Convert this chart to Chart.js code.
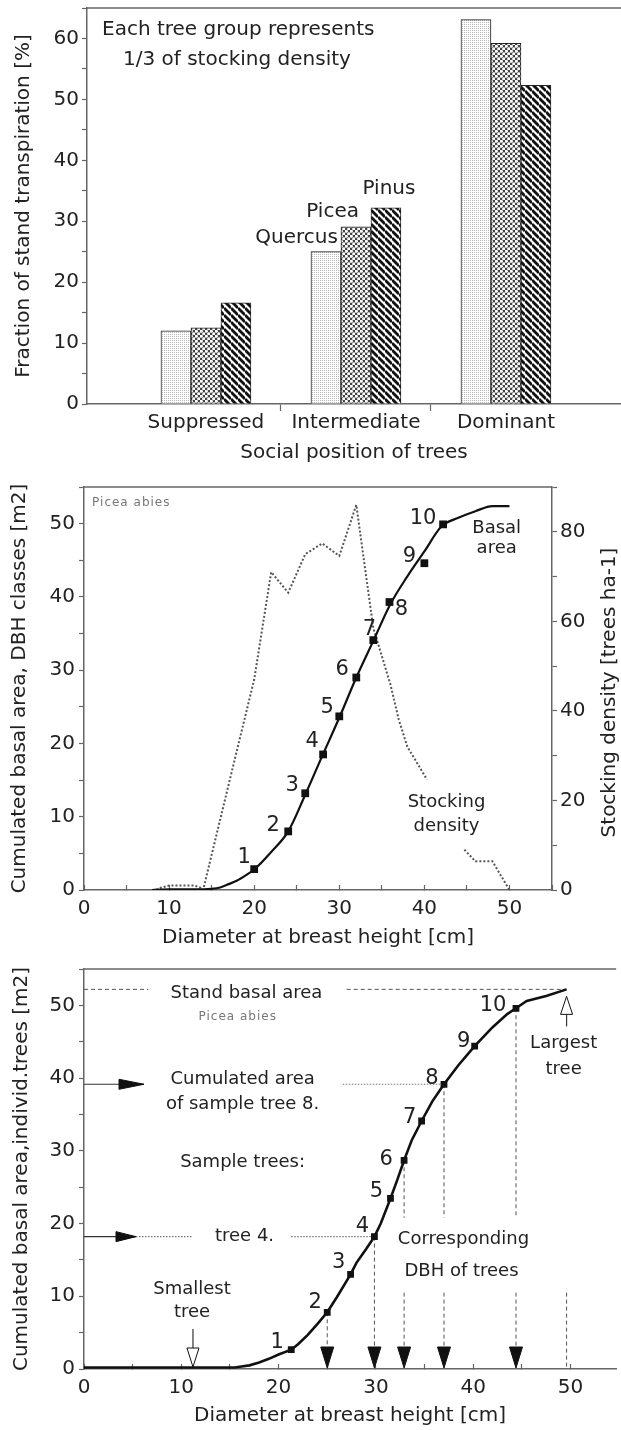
<!DOCTYPE html>
<html>
<head>
<meta charset="utf-8">
<script src="https://cdn.jsdelivr.net/npm/chart.js@4.4.0/dist/chart.umd.min.js"></script>
<style>
  body { margin: 0; background: #fff; width: 621px; height: 1430px; overflow: hidden; }
  canvas { position: absolute; left: 0; }
</style>
</head>
<body>
<canvas id="c1" width="621" height="470" style="top:0"></canvas>
<canvas id="c2" width="621" height="480" style="top:470px"></canvas>
<canvas id="c3" width="621" height="480" style="top:950px"></canvas>
<script>
// --- top panel: fraction of stand transpiration by social position
const positions = ["Suppressed", "Intermediate", "Dominant"];
const quercus = [12.0, 25.0, 63.1];
const picea = [12.5, 29.1, 59.2];
const pinus = [16.6, 32.2, 52.3];

// --- middle panel: cumulated basal area over DBH classes + stocking density
const dbhClass = [8, 10, 12, 14, 15, 16, 17, 18, 19, 20, 22, 24, 26, 28, 30, 32, 34, 36, 38, 40, 42, 44, 46, 48, 50];
const basalClass = [0, 0.1, 0.1, 0.1, 0.15, 0.35, 0.8, 1.3, 2.0, 2.8, 5.2, 8.0, 13.0, 18.3, 23.5, 29.0, 34.0, 39.0, 42.8, 46.2, 49.6, 50.8, 51.7, 52.4, 52.4];
const dbhStock = [8.5, 9, 10, 11, 12, 13, 13.7, 14, 16, 18, 20, 22, 24, 26, 28, 30, 32, 34, 36, 37, 38, 40.3, 42, 44.7, 46, 48, 50];
const stockDensity = [0, 0.5, 1, 1, 1, 1, 0.5, 0, 15.7, 31.4, 47, 71, 66.4, 75, 77.4, 74.6, 86, 58.5, 46, 38, 32, 24.7, null, 9.0, 6.4, 6.4, 0];
const sampleDbh2 = [20.0, 24.0, 26.0, 28.1, 30.0, 32.0, 34.0, 35.9, 40.0, 42.2];
const sampleBasal2 = [2.85, 8.0, 13.2, 18.5, 23.7, 29.0, 34.1, 39.3, 44.6, 49.9];

// --- bottom panel: cumulated basal area of individual trees
const dbhTrees = [0, 15.5, 16, 17, 18, 19, 20, 21.3, 22, 23, 24, 25, 26, 27.4, 28, 29, 29.85, 30.5, 31.5, 32.2, 32.9, 33.7, 34.7, 35.8, 37, 38.5, 40.15, 42, 43.5, 44.4, 45.5, 47.5, 49.6];
const basalTrees = [0.2, 0.2, 0.3, 0.5, 0.9, 1.4, 2.0, 2.65, 3.4, 4.7, 6.2, 7.8, 9.9, 13.0, 14.6, 16.5, 18.2, 20.0, 23.45, 26.0, 28.7, 31.5, 34.1, 36.8, 39.15, 41.8, 44.4, 47.0, 48.8, 49.6, 50.6, 51.3, 52.2];
const sampleDbh3 = [21.3, 25.0, 27.4, 29.85, 31.5, 32.9, 34.7, 37.0, 40.15, 44.4];
const sampleBasal3 = [2.65, 7.8, 13.0, 18.2, 23.45, 28.7, 34.1, 39.15, 44.4, 49.6];
const standBasal = 52.2;
const smallestDbh = 11.2;
const largestDbh = 49.6;

// label offsets (px) for the sample tree numbers
const numOff2 = [[-10, -12], [-15, -6], [-13, -8], [-11, -13], [-12, -9], [-14, -8], [-4, -11], [12, 8], [-15, -7], [-20, -6]];
const numOff3 = [[-14, -7], [-12, -10], [-12, -12], [-12, -10], [-14, -7], [-18, -1], [-12, -3], [-12, -6], [-11, -5], [-23, -3]];

const FONT = '"DejaVu Sans", sans-serif';
const AXIS = '#666';
const INK = '#222';
Chart.defaults.font.family = FONT;
Chart.defaults.font.size = 20;
Chart.defaults.color = INK;
Chart.defaults.animation = false;
Chart.defaults.plugins.legend.display = false;
Chart.defaults.plugins.tooltip.enabled = false;

function pattern(size, paint) {
  const c = document.createElement("canvas");
  c.width = size; c.height = size;
  const g = c.getContext("2d");
  paint(g, size);
  return g.createPattern(c, "repeat");
}
const dots = pattern(2, (g) => { g.fillStyle = "#fff"; g.fillRect(0, 0, 2, 2); g.fillStyle = "#b8b8b8"; g.fillRect(0, 0, 1, 1); });
const checks = pattern(5, (g) => {
  g.fillStyle = "#444"; g.fillRect(0, 0, 5, 5);
  g.fillStyle = "#fff";
  [[1.25, 1.25], [3.75, 3.75]].forEach(([x, y]) => { g.beginPath(); g.arc(x, y, 1.6, 0, Math.PI * 2); g.fill(); });
});
const stripes = pattern(7, (g, s) => {
  g.fillStyle = "#fff"; g.fillRect(0, 0, s, s);
  g.strokeStyle = "#111"; g.lineWidth = 2.8;
  [-s, 0, s].forEach(k => { g.beginPath(); g.moveTo(0, k); g.lineTo(s, s + k); g.stroke(); });
});

function txt(ctx, s, x, y, o = {}) {
  ctx.save();
  ctx.font = o.font || "18px " + FONT;
  ctx.fillStyle = o.color || INK;
  ctx.textAlign = o.align || "center";
  ctx.textBaseline = "middle";
  if (o.spacing) ctx.letterSpacing = o.spacing;
  if (o.rot) { ctx.translate(x, y); ctx.rotate(o.rot); ctx.fillText(s, 0, 0); }
  else ctx.fillText(s, x, y);
  ctx.restore();
}
function line(ctx, x1, y1, x2, y2, dash, color, w) {
  ctx.save();
  ctx.strokeStyle = color || "#444";
  ctx.lineWidth = w || 1;
  ctx.setLineDash(dash || []);
  ctx.beginPath(); ctx.moveTo(x1, y1); ctx.lineTo(x2, y2); ctx.stroke();
  ctx.restore();
}
// triangle head: tip at (x,y), pointing along (dx,dy), length len, width wid
function head(ctx, x, y, dx, dy, len, wid, fill) {
  const bx = x - dx * len, by = y - dy * len;
  ctx.save();
  ctx.beginPath();
  ctx.moveTo(x, y);
  ctx.lineTo(bx - dy * wid / 2, by + dx * wid / 2);
  ctx.lineTo(bx + dy * wid / 2, by - dx * wid / 2);
  ctx.closePath();
  ctx.fillStyle = fill; ctx.fill();
  ctx.strokeStyle = "#111"; ctx.lineWidth = 1; ctx.stroke();
  ctx.restore();
}

const frame = {
  id: "frame",
  afterDraw(chart) {
    const a = chart.chartArea;
    line(chart.ctx, a.left, a.top, a.right, a.top, [], AXIS, 1.5);
  }
};

function yAxis(max, step, every, width, pad, title, titlePad) {
  return {
    min: 0, max: max,
    border: { color: AXIS, width: 1.5 },
    grid: { drawOnChartArea: false, tickLength: 5, tickColor: AXIS, tickWidth: 1.2 },
    ticks: { stepSize: step, padding: pad, autoSkip: false, includeBounds: false,
      callback: v => (v % every === 0 ? v : "") },
    title: title ? { display: true, text: title, font: { size: 20 }, padding: { top: titlePad, bottom: 0 } } : { display: false },
    afterFit: s => { s.width = width; s.paddingTop = 0; s.paddingBottom = 0; }
  };
}
function xAxis(max, height, tick, pad, title, titlePad) {
  return {
    type: "linear", min: 0, max: max,
    border: { color: AXIS, width: 1.5 },
    grid: { drawOnChartArea: false, tickLength: tick, tickColor: AXIS, tickWidth: 1.2 },
    ticks: { stepSize: 5, padding: pad, autoSkip: false, maxRotation: 0, includeBounds: false,
      callback: v => (v % 10 === 0 ? v : "") },
    title: { display: true, text: title, font: { size: 20 }, padding: { top: 0, bottom: titlePad } },
    afterFit: s => { s.height = height; s.paddingLeft = 0; s.paddingRight = 0; }
  };
}
const xy = (xs, ys) => xs.map((x, i) => ({ x: x, y: ys[i] }));

// ---------------- panel 1
new Chart(document.getElementById("c1"), {
  type: "bar",
  data: {
    datasets: [
      { label: "Quercus", data: xy([1, 2, 3], quercus), backgroundColor: dots },
      { label: "Picea", data: xy([1, 2, 3], picea), backgroundColor: checks },
      { label: "Pinus", data: xy([1, 2, 3], pinus), backgroundColor: stripes }
    ]
  },
  options: {
    responsive: false,
    layout: { padding: { top: 8, left: 0, right: 0, bottom: 0 } },
    datasets: { bar: { barThickness: 30, borderColor: "#222", borderWidth: 1 } },
    scales: {
      x: {
        type: "linear", min: 0.207, max: 3.767, offset: false,
        border: { color: AXIS, width: 1.5 },
        grid: { offset: false, drawOnChartArea: false, tickLength: 7, tickWidth: 1.2,
          tickColor: c => (c.tick && !Number.isInteger(c.tick.value) ? AXIS : "rgba(0,0,0,0)") },
        afterBuildTicks: s => { s.ticks = [1, 1.5, 2, 2.5, 3].map(v => ({ value: v })); },
        ticks: { padding: 0, autoSkip: false, maxRotation: 0,
          callback: v => (Number.isInteger(v) ? positions[v - 1] : "") },
        title: { display: true, text: "Social position of trees", font: { size: 20 }, padding: { top: 0, bottom: 5 } },
        afterFit: s => { s.height = 66; s.paddingLeft = 0; s.paddingRight = 0; }
      },
      y: yAxis(65, 5, 10, 87, 3, "Fraction of stand transpiration [%]", 12)
    }
  },
  plugins: [frame, {
    id: "notes1",
    afterDatasetsDraw(chart) {
      const ctx = chart.ctx, a = chart.chartArea;
      const f = "20px " + FONT;
      txt(ctx, "Each tree group represents", a.left + 15, 30, { align: "left", font: f });
      txt(ctx, "1/3 of stocking density", a.left + 36, 60, { align: "left", font: f });
      const q = chart.getDatasetMeta(0).data[1];
      const p = chart.getDatasetMeta(1).data[1];
      const n = chart.getDatasetMeta(2).data[1];
      txt(ctx, "Quercus", p.x - p.width / 2 - 3, q.y - 14, { align: "right", font: f });
      txt(ctx, "Picea", p.x + 3, p.y - 15, { align: "right", font: f });
      txt(ctx, "Pinus", n.x + 3, n.y - 19, { font: f });
    }
  }]
});

// ---------------- panel 2
new Chart(document.getElementById("c2"), {
  type: "scatter",
  data: {
    datasets: [
      { data: xy(sampleDbh2, sampleBasal2), pointStyle: "rect", pointRadius: 5.5, backgroundColor: "#111", borderWidth: 0, order: 0 },
      { data: xy(dbhClass, basalClass), showLine: true, pointRadius: 0, borderColor: "#111", borderWidth: 2.2, cubicInterpolationMode: "monotone", order: 1 },
      { data: xy(dbhStock, stockDensity), yAxisID: "y2", showLine: true, spanGaps: false, pointRadius: 0, borderColor: "#555", borderWidth: 2, borderDash: [2, 2], order: 2 }
    ]
  },
  options: {
    responsive: false,
    layout: { padding: { top: 17, left: 0, right: 0, bottom: 0 } },
    scales: {
      x: xAxis(55, 60, -5, 12, "Diameter at breast height [cm]", 0),
      y: yAxis(55, 5, 10, 84, 4, "Cumulated basal area, DBH classes [m2]", 8),
      y2: Object.assign(yAxis(90, 10, 20, 69, 3, null, 0), { position: "right" })
    }
  },
  plugins: [frame, {
    id: "notes2",
    afterDatasetsDraw(chart) {
      const ctx = chart.ctx, a = chart.chartArea, X = chart.scales.x, Y = chart.scales.y;
      const px = v => X.getPixelForValue(v), py = v => Y.getPixelForValue(v);
      sampleDbh2.forEach((d, i) => {
        txt(ctx, String(i + 1), px(d) + numOff2[i][0], py(sampleBasal2[i]) + numOff2[i][1], { font: "21px " + FONT });
      });
      txt(ctx, "Basal", px(48.5), py(49.3));
      txt(ctx, "area", px(48.5), py(46.6));
      txt(ctx, "Stocking", px(42.6), py(12.0));
      txt(ctx, "density", px(42.6), py(8.7));
      txt(ctx, "Picea abies", px(0.95), py(52.9), { align: "left", font: "12px " + FONT, color: "#777", spacing: "1px" });
      txt(ctx, "Stocking density [trees ha-1]", 610, (a.top + a.bottom) / 2 + 4, { font: "20px " + FONT, rot: -Math.PI / 2 });
    }
  }]
});

// ---------------- panel 3
new Chart(document.getElementById("c3"), {
  type: "scatter",
  data: {
    datasets: [
      { data: xy(sampleDbh3, sampleBasal3), pointStyle: "rect", pointRadius: 4.8, backgroundColor: "#111", borderWidth: 0, order: 0 },
      { data: xy(dbhTrees, basalTrees), showLine: true, pointRadius: 0, borderColor: "#111", borderWidth: 2.6, order: 1 }
    ]
  },
  options: {
    responsive: false,
    layout: { padding: { top: 19, left: 0, right: 0, bottom: 0 } },
    scales: {
      x: xAxis(54.7, 61, -5, 12, "Diameter at breast height [cm]", 2),
      y: yAxis(55, 5, 10, 84, 4, "Cumulated basal area,individ.trees [m2]", 10)
    }
  },
  plugins: [frame, {
    id: "notes3",
    beforeDatasetsDraw(chart) {
      const ctx = chart.ctx, X = chart.scales.x, Y = chart.scales.y;
      const px = v => X.getPixelForValue(v), py = v => Y.getPixelForValue(v);
      const x0 = px(0), y0 = py(0);
      // stand basal area
      line(ctx, x0, py(standBasal), px(6.6), py(standBasal), [4, 3], "#555");
      line(ctx, px(27), py(standBasal), px(largestDbh), py(standBasal), [4, 3], "#555");
      // cumulated area of sample tree 8
      const y8 = py(sampleBasal3[7]);
      line(ctx, x0, y8, x0 + 60, y8, [], "#333", 1.2);
      head(ctx, x0 + 60, y8, 1, 0, 25, 10, "#111");
      line(ctx, px(26.6), y8, px(sampleDbh3[7]), y8, [1.5, 1.5], "#777", 1.2);
      // tree 4
      const y4 = py(sampleBasal3[3]);
      line(ctx, x0, y4, x0 + 52, y4, [], "#333", 1.2);
      head(ctx, x0 + 52, y4, 1, 0, 20, 10, "#111");
      line(ctx, x0 + 52, y4, px(11.2), y4, [1.5, 1.5], "#777", 1.2);
      line(ctx, px(21.3), y4, px(sampleDbh3[3]), y4, [1.5, 1.5], "#777", 1.2);
      // corresponding DBH of sample trees
      [1, 3, 5, 7, 9].forEach(i => {
        const x = px(sampleDbh3[i]);
        const d = sampleDbh3[i];
        if (d > 32 && d < 46) {
          line(ctx, x, py(sampleBasal3[i]), x, py(20.8), [4, 3], "#555");
          line(ctx, x, py(10.5), x, y0, [4, 3], "#555");
        } else {
          line(ctx, x, py(sampleBasal3[i]), x, y0, [4, 3], "#555");
        }
        head(ctx, x, y0 - 1, 0, 1, 21, 13, "#111");
      });
      line(ctx, px(largestDbh), py(10.5), px(largestDbh), y0, [4, 3], "#555");
      // largest / smallest tree arrows
      const xl = px(largestDbh), ys = py(standBasal);
      line(ctx, xl, ys + 25, xl, ys + 37, [], "#333", 1.2);
      head(ctx, xl, ys + 7, 0, -1, 18, 12, "#fff");
      const xs = px(smallestDbh);
      line(ctx, xs, y0 - 40, xs, y0 - 21, [], "#333", 1.2);
      head(ctx, xs, y0 - 2, 0, 1, 19, 12, "#fff");
    },
    afterDatasetsDraw(chart) {
      const ctx = chart.ctx, X = chart.scales.x, Y = chart.scales.y;
      const px = v => X.getPixelForValue(v), py = v => Y.getPixelForValue(v);
      sampleDbh3.forEach((d, i) => {
        txt(ctx, String(i + 1), px(d) + numOff3[i][0], py(sampleBasal3[i]) + numOff3[i][1], { font: "21px " + FONT });
      });
      txt(ctx, "Stand basal area", px(16.7), py(51.7));
      txt(ctx, "Picea abies", px(15.8), py(48.4), { font: "12px " + FONT, color: "#777", spacing: "1px" });
      txt(ctx, "Largest", px(49.3), py(44.8));
      txt(ctx, "tree", px(49.3), py(41.2));
      txt(ctx, "Cumulated area", px(16.3), py(39.8));
      txt(ctx, "of sample tree 8.", px(16.3), py(36.4));
      txt(ctx, "Sample trees:", px(16.3), py(28.4));
      txt(ctx, "tree 4.", px(16.5), py(18.3));
      txt(ctx, "Corresponding", px(39.0), py(17.8));
      txt(ctx, "DBH of trees", px(38.8), py(13.4));
      txt(ctx, "Smallest", px(11.1), py(10.9));
      txt(ctx, "tree", px(11.1), py(7.8));
    }
  }]
});
</script>
</body>
</html>
